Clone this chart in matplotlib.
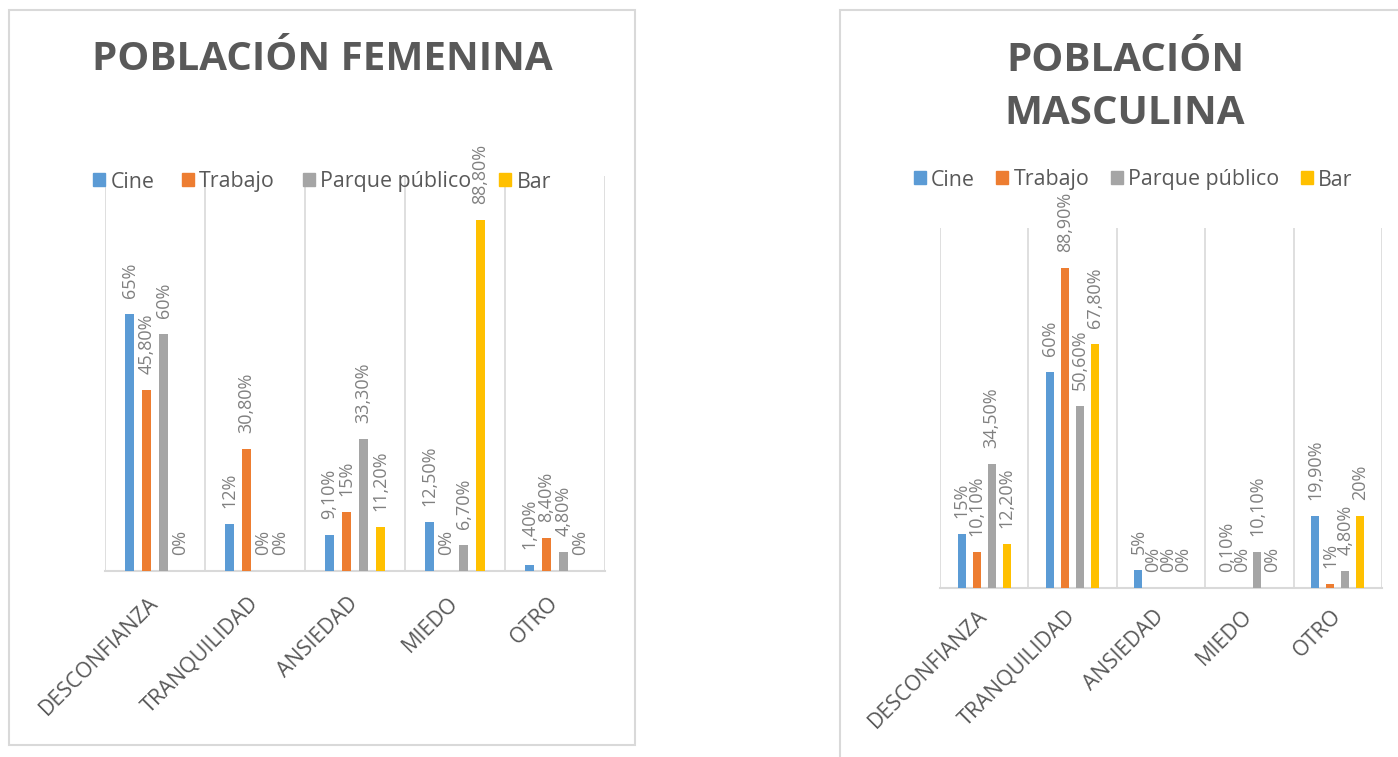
import numpy as np
import matplotlib.pyplot as plt
from matplotlib.patches import Patch, Rectangle

plt.rcParams['font.family'] = ['Open Sans', 'DejaVu Sans']

categorias = ["DESCONFIANZA", "TRANQUILIDAD", "ANSIEDAD", "MIEDO", "OTRO"]
series = ["Cine", "Trabajo", "Parque público", "Bar"]
colores = ["#5B9BD5", "#ED7D31", "#A5A5A5", "#FFC000"]

# porcentajes por serie (Cine, Trabajo, Parque público, Bar)
fem_cine = [65, 12, 9.1, 12.5, 1.4]
fem_trabajo = [45.8, 30.8, 15, 0, 8.4]
fem_parque = [60, 0, 33.3, 6.7, 4.8]
fem_bar = [0, 0, 11.2, 88.8, 0]

mas_cine = [15, 60, 5, 0.1, 19.9]
mas_trabajo = [10.1, 88.9, 0, 0, 1]
mas_parque = [34.5, 50.6, 0, 10.1, 4.8]
mas_bar = [12.2, 67.8, 0, 0, 20]

W, H = 1398, 757
fig = plt.figure(figsize=(W / 100, H / 100), dpi=100)


def px_axes(x0, y0, x1, y1):
    return [x0 / W, 1 - y1 / H, (x1 - x0) / W, (y1 - y0) / H]


def fmt(v):
    if v == int(v):
        return "%d%%" % int(v)
    return ("%.2f%%" % v).replace(".", ",")


def panel(rect, datos, titulo, tpos, lpos, colsp, lpad):
    ax = fig.add_axes(rect)
    x = np.arange(len(categorias))
    for i, vals in enumerate(datos):
        xs = x + (i - 1.5) * 0.17
        ax.bar(xs, vals, width=0.09, color=colores[i], zorder=3)
        for xi, v in zip(xs, vals):
            ax.annotate(fmt(v), (xi, v), xytext=(0, 16), textcoords='offset pixels',
                        rotation=90, ha='center', va='bottom', fontsize=13,
                        color='#808080', annotation_clip=False, zorder=4)
    ax.set_xlim(-0.5, 4.5)
    ax.set_ylim(0, 100)
    ax.set_yticks([])
    ax.set_xticks(x)
    ax.set_xticklabels(categorias, rotation=45, ha='right', va='center',
                       rotation_mode='anchor', fontsize=15.5, color='#595959')
    ax.tick_params(axis='x', length=0, pad=lpad)
    ax.set_xticks(np.arange(-0.5, 5, 1), minor=True)
    ax.tick_params(axis='x', which='minor', length=0)
    ax.grid(which='minor', axis='x', color='#d9d9d9', lw=1.2, zorder=0)
    for s in ['left', 'right', 'top']:
        ax.spines[s].set_visible(False)
    ax.spines['bottom'].set_color('#d9d9d9')
    ax.spines['bottom'].set_linewidth(1.5)

    handles = [Patch(color=c) for c in colores]
    ax.legend(handles, series, loc='center', bbox_to_anchor=(lpos[0] / W, 1 - lpos[1] / H),
              bbox_transform=fig.transFigure, ncol=4, frameon=False, fontsize=15.4,
              handlelength=0.56, handleheight=0.56, handletextpad=0.25,
              columnspacing=colsp, labelcolor='#595959')

    fig.text(tpos[0] / W, 1 - tpos[1] / H, titulo, ha='center', va='center',
             fontsize=29, fontweight='bold', color='#595959', linespacing=1.45,
             multialignment='center')
    return ax


# marcos de los dos graficos
fig.patches.append(Rectangle((9 / W, 1 - 745 / H), 626 / W, 735 / H, transform=fig.transFigure,
                             fill=False, edgecolor='#d9d9d9', lw=1.5))
fig.patches.append(Rectangle((840 / W, -0.05), 0.5, 1 - 10 / H + 0.05, transform=fig.transFigure,
                             fill=False, edgecolor='#d9d9d9', lw=1.5))

panel(px_axes(105, 176, 605, 571), [fem_cine, fem_trabajo, fem_parque, fem_bar],
      "POBLACIÓN FEMENINA", (322, 60), (322, 182), 1.3, 21)
panel(px_axes(940, 228, 1382, 588), [mas_cine, mas_trabajo, mas_parque, mas_bar],
      "POBLACIÓN\nMASCULINA", (1125, 87), (1133, 180), 1.0, 18)

fig.savefig("out.png", dpi=100)
